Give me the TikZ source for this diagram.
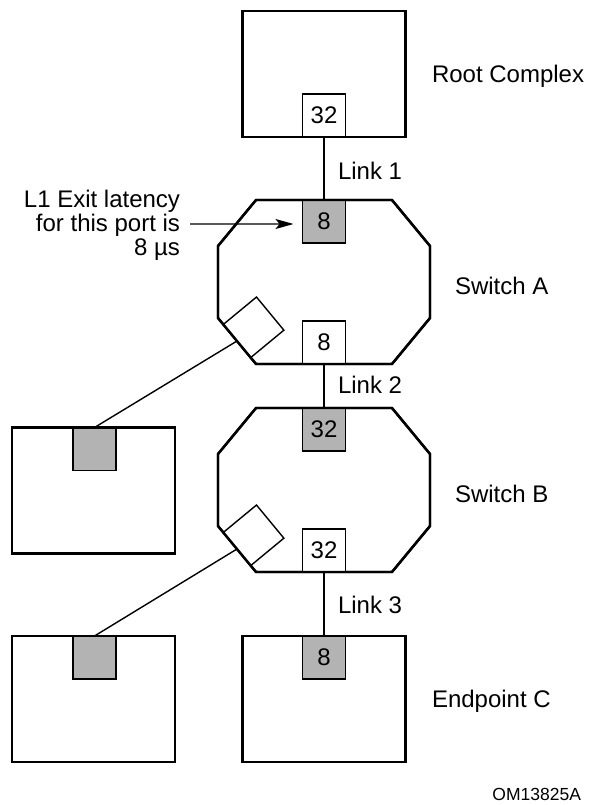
\documentclass[tikz,border=0pt]{standalone}
\usepackage{fontspec}
\setmainfont{Liberation Sans}
\usetikzlibrary{arrows.meta,calc}
\definecolor{portgray}{RGB}{179,179,179}
\newcommand\drawoctagon[1]{%
  \draw[outerline] ([xshift=38bp]#1.north west) -- ([xshift=-38bp]#1.north east)
    -- ([yshift=-46bp]#1.north east) -- ([yshift=46bp]#1.south east)
    -- ([xshift=-38bp]#1.south east) -- ([xshift=38bp]#1.south west)
    -- ([yshift=46bp]#1.south west) -- ([yshift=-46bp]#1.north west) -- cycle;}
\begin{document}
\begin{tikzpicture}[x=1bp,y=-1bp,
  every node/.style={outer sep=0pt, inner sep=0pt},
  outerline/.style={line width=2.4bp, line join=miter},
  outerbox/.style={draw, outerline, minimum width=163bp, minimum height=126bp},
  swshape/.style={minimum width=212bp, minimum height=164bp},
  port/.style={draw, line width=1.4bp, fill=white, minimum width=43bp, minimum height=43bp,
    font=\fontsize{24bp}{24bp}\selectfont},
  gport/.style={port, fill=portgray},
  link/.style={line width=1.4bp},
  lbl/.style={font=\fontsize{24bp}{24bp}\selectfont},
  tip/.style={-{Stealth[length=18bp,width=10bp,inset=4bp]}}
]
\useasboundingbox (0,0) rectangle (589,805);

% outer shapes
\node[outerbox] (root) at (324,74) {};
\node[swshape] (swA) at (324,282) {};
\node[swshape] (swB) at (324,490) {};
\node[outerbox] (ep1) at (93.5,490.5) {};
\node[outerbox] (ep2) at (93.5,699) {};
\node[outerbox] (epC) at (324,699) {};
\drawoctagon{swA}
\drawoctagon{swB}

% ports
\node[port, anchor=south] (rootport) at (root.south) {32};
\node[gport, anchor=north] (pA1) at (swA.north) {8};
\node[port, anchor=south] (pA2) at (swA.south) {8};
\node[gport, anchor=north] (pB1) at (swB.north) {32};
\node[port, anchor=south] (pB2) at (swB.south) {32};
\node[gport, anchor=north] (pC) at (epC.north) {8};
\node[gport, anchor=north] (lp1) at ([xshift=1bp]ep1.north) {};
\node[gport, anchor=north] (lp2) at ([xshift=1bp]ep2.north) {};
\node[port, rotate=-50.44] (sqA) at ([shift={(35.6,-36.7)}]swA.south west) {};
\node[port, rotate=-50.44] (sqB) at ([shift={(35.6,-36.7)}]swB.south west) {};

% re-stroke outer outlines over the ports
\draw[outerline] (root.south west) rectangle (root.north east);
\draw[outerline] (ep1.south west) rectangle (ep1.north east);
\draw[outerline] (ep2.south west) rectangle (ep2.north east);
\draw[outerline] (epC.south west) rectangle (epC.north east);
\drawoctagon{swA}
\drawoctagon{swB}

% links
\draw[link] (rootport.south) -- (pA1.north);
\draw[link] (pA2.south) -- (pB1.north);
\draw[link] (pB2.south) -- (pC.north);
\draw[link] (sqA.south) -- (lp1.north);
\draw[link] (sqB.south) -- (lp2.north);

% labels
\node[lbl, anchor=base west] (link1) at (338,179) {Link 1};
\node[lbl, anchor=base west] (link2) at (338,393) {Link 2};
\node[lbl, anchor=base west] (link3) at (338,613) {Link 3};
\node[lbl, anchor=base west] (rclbl) at (432,82) {Root Complex};
\node[lbl, anchor=base west] (salbl) at (455,294) {Switch A};
\node[lbl, anchor=base west] (sblbl) at (455,502) {Switch B};
\node[lbl, anchor=base west] (eclbl) at (432,707) {Endpoint C};
\node[lbl, align=right, anchor=north east] (l1lbl) at (180,190.5) {L1 Exit latency\\for this port is\\8 µs};
\coordinate (arrs) at (190,224);
\draw[link, tip] (arrs) -- ([xshift=-9bp,yshift=-2.5bp]pA1.west);
\node[font=\fontsize{17.5bp}{17.5bp}\selectfont, anchor=base east] (om) at (581,800) {OM13825A};
\end{tikzpicture}
\end{document}
